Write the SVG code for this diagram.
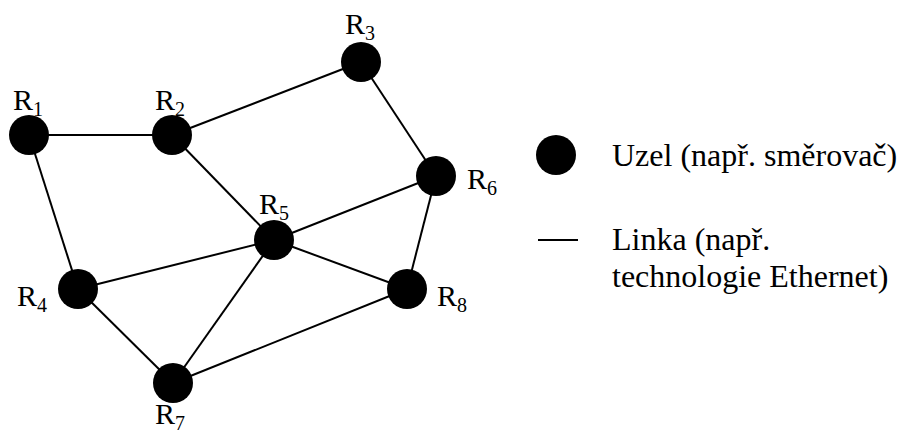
<svg xmlns="http://www.w3.org/2000/svg" width="906" height="436" viewBox="0 0 906 436">
<style>
.edge{stroke:#000;stroke-width:2;fill:none}
.node{fill:#000}
.lbl{font-family:'Liberation Serif','Times New Roman','DejaVu Serif',serif;font-size:30px;fill:#000}
.leg{font-size:32px}
.sub{font-size:20px}
</style>
<rect width="906" height="436" fill="#fff"/>
<g id="connectors">
<line class="edge" x1="29" y1="135" x2="172" y2="135"/>
<line class="edge" x1="29" y1="135" x2="78" y2="289"/>
<line class="edge" x1="172" y1="135" x2="361" y2="62"/>
<line class="edge" x1="172" y1="135" x2="274" y2="240"/>
<line class="edge" x1="361" y1="62" x2="436" y2="176"/>
<line class="edge" x1="436" y1="176" x2="274" y2="240"/>
<line class="edge" x1="436" y1="176" x2="407" y2="289"/>
<line class="edge" x1="274" y1="240" x2="78" y2="289"/>
<line class="edge" x1="274" y1="240" x2="407" y2="289"/>
<line class="edge" x1="274" y1="240" x2="173" y2="383"/>
<line class="edge" x1="78" y1="289" x2="173" y2="383"/>
<line class="edge" x1="173" y1="383" x2="407" y2="289"/>
</g>
<g id="R1"><circle class="node" cx="29" cy="135" r="20"/><text class="lbl" x="13" y="110">R<tspan class="sub" dy="6">1</tspan></text></g>
<g id="R2"><circle class="node" cx="172" cy="135" r="20"/><text class="lbl" x="155" y="110">R<tspan class="sub" dy="6">2</tspan></text></g>
<g id="R3"><circle class="node" cx="361" cy="62" r="20"/><text class="lbl" x="345" y="34">R<tspan class="sub" dy="6">3</tspan></text></g>
<g id="R4"><circle class="node" cx="78" cy="289" r="20"/><text class="lbl" x="17" y="306">R<tspan class="sub" dy="6">4</tspan></text></g>
<g id="R5"><circle class="node" cx="274" cy="240" r="20"/><text class="lbl" x="259" y="214">R<tspan class="sub" dy="6">5</tspan></text></g>
<g id="R6"><circle class="node" cx="436" cy="176" r="20"/><text class="lbl" x="467" y="189">R<tspan class="sub" dy="6">6</tspan></text></g>
<g id="R7"><circle class="node" cx="173" cy="383" r="20"/><text class="lbl" x="155" y="424">R<tspan class="sub" dy="6">7</tspan></text></g>
<g id="R8"><circle class="node" cx="407" cy="289" r="20"/><text class="lbl" x="437" y="306">R<tspan class="sub" dy="6">8</tspan></text></g>
<g id="legend">
<circle class="node" cx="556" cy="155" r="20"/>
<text class="lbl leg" x="612" y="166">Uzel (např. směrovač)</text>
<line class="edge" x1="538" y1="240" x2="578" y2="240"/>
<text class="lbl leg" x="612" y="250">Linka (např.</text>
<text class="lbl leg" x="612" y="287">technologie Ethernet)</text>
</g>
</svg>
